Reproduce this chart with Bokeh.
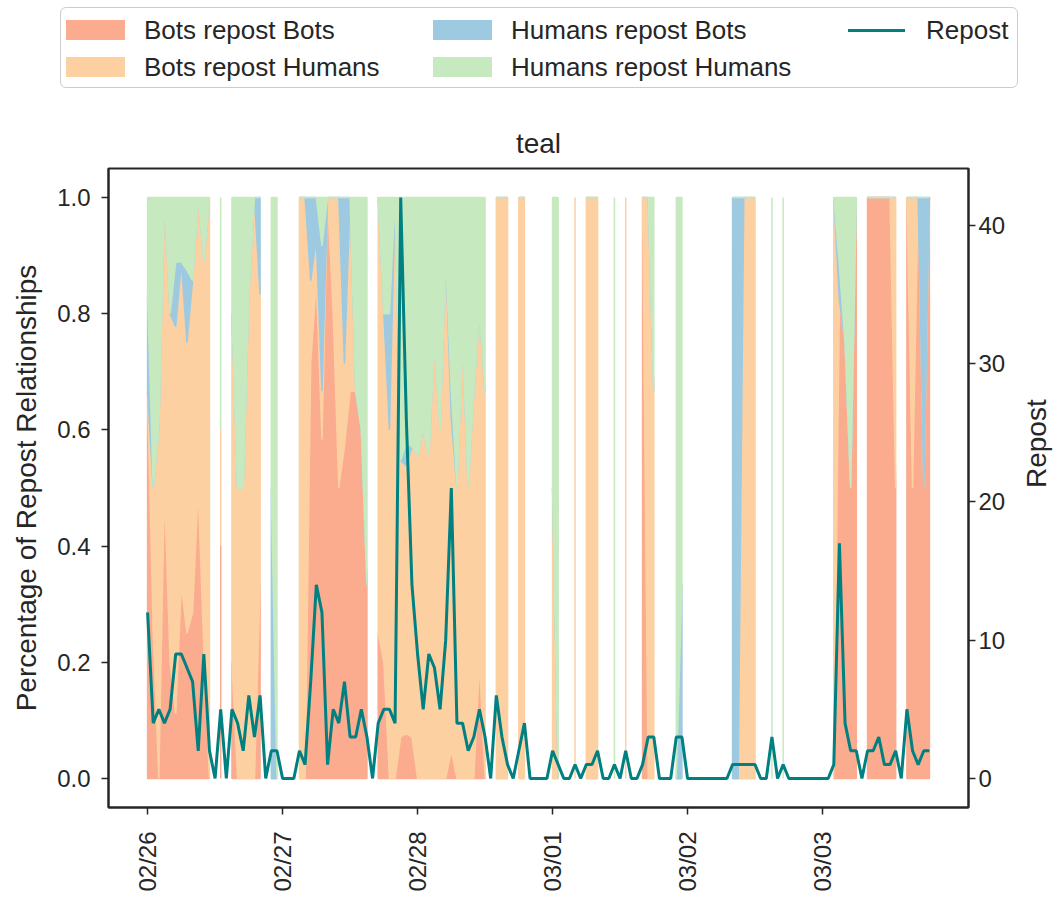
import math
from bokeh.plotting import figure
from bokeh.layouts import column
from bokeh.models import Range1d, LinearAxis, FixedTicker, Div
from bokeh.embed import file_html
from bokeh.resources import INLINE

# Hourly repost counts per relationship type, starting 02/26 00:00.
bots_bots = [
    8, 1, 0, 2, 1, 1, 3, 2, 2, 1, 2, 0, 0, 2, 0, 1, 0, 0, 0, 0, 2, 0, 0, 0,
    0, 0, 0, 0, 0, 5, 12, 7, 1, 4, 2, 4, 2, 2, 3, 1, 0, 1, 1, 0, 0, 3, 2, 1,
    0, 0, 0, 0, 0, 0, 1, 0, 0, 0, 0, 1, 0, 0, 0, 0, 0, 0, 0, 0, 0, 0, 0, 0,
    0, 0, 0, 0, 0, 0, 0, 0, 0, 0, 0, 0, 0, 0, 0, 0, 1, 0, 0, 0, 0, 0, 0, 0,
    0, 0, 0, 0, 0, 0, 0, 0, 0, 0, 0, 0, 0, 0, 0, 0, 0, 0, 0, 0, 0, 0, 0, 0,
    0, 0, 0, 14, 3, 1, 2, 0, 2, 2, 3, 1, 1, 1, 0, 5, 1, 1, 1, 2,
]
bots_humans = [
    0, 1, 3, 2, 3, 6, 5, 4, 4, 1, 6, 2, 0, 1, 0, 3, 2, 1, 5, 3, 3, 0, 0, 0,
    0, 0, 0, 2, 1, 1, 1, 1, 0, 1, 2, 1, 1, 0, 0, 0, 0, 3, 3, 3, 4, 20, 12, 7,
    5, 3, 5, 6, 3, 9, 12, 2, 3, 1, 2, 3, 2, 0, 6, 3, 1, 0, 2, 4, 0, 0, 0, 0,
    1, 0, 0, 0, 1, 0, 1, 1, 2, 0, 0, 0, 0, 2, 0, 0, 0, 3, 2, 0, 0, 0, 0, 0,
    0, 0, 0, 0, 0, 0, 0, 0, 0, 0, 1, 1, 1, 0, 0, 0, 0, 0, 0, 0, 0, 0, 0, 0,
    0, 0, 1, 0, 0, 0, 0, 0, 0, 0, 0, 0, 0, 1, 0, 0, 1, 0, 0, 0,
]
humans_bots = [
    2, 0, 0, 0, 0, 1, 0, 1, 0, 0, 0, 0, 0, 0, 0, 0, 0, 0, 0, 0, 1, 0, 1, 0,
    0, 0, 0, 0, 0, 1, 1, 3, 0, 0, 0, 2, 0, 0, 0, 0, 0, 0, 0, 1, 0, 0, 1, 0,
    0, 0, 0, 0, 0, 0, 1, 0, 0, 0, 0, 0, 0, 0, 0, 0, 0, 0, 0, 0, 0, 0, 0, 0,
    0, 0, 0, 0, 0, 0, 0, 0, 0, 0, 0, 0, 0, 0, 0, 0, 0, 0, 0, 0, 0, 0, 0, 1,
    0, 0, 0, 0, 0, 0, 0, 0, 1, 1, 0, 0, 0, 0, 0, 0, 0, 0, 0, 0, 0, 0, 0, 0,
    0, 0, 0, 1, 0, 0, 0, 0, 0, 0, 0, 0, 0, 0, 0, 0, 0, 0, 1, 0,
]
humans_humans = [
    2, 2, 2, 0, 1, 1, 1, 1, 1, 0, 1, 0, 0, 2, 0, 1, 2, 1, 1, 0, 0, 0, 1, 2,
    0, 0, 0, 0, 0, 0, 0, 1, 0, 0, 0, 0, 0, 1, 2, 2, 0, 0, 1, 1, 0, 19, 11, 6,
    4, 2, 4, 2, 2, 1, 7, 2, 1, 1, 1, 1, 1, 0, 0, 0, 0, 0, 0, 0, 0, 0, 0, 0,
    1, 1, 0, 0, 0, 0, 0, 0, 0, 0, 0, 1, 0, 0, 0, 0, 0, 0, 1, 0, 0, 0, 3, 2,
    0, 0, 0, 0, 0, 0, 0, 0, 0, 0, 0, 0, 0, 0, 0, 3, 0, 1, 0, 0, 0, 0, 0, 0,
    0, 0, 0, 2, 1, 1, 0, 0, 0, 0, 0, 0, 0, 0, 0, 0, 0, 0, 0, 0,
]

series_names = ["Bots repost Bots", "Bots repost Humans",
                "Humans repost Bots", "Humans repost Humans"]
series_colors = ["#fbab8e", "#fdd0a2", "#9ecae1", "#c7e9c0"]
repost_name = "Repost"
repost_color = "#008080"

day_ticks = [0, 24, 48, 72, 96, 120]
day_labels = ["02/26", "02/27", "02/28", "03/01", "03/02", "03/03"]
share_ticks = [0.0, 0.2, 0.4, 0.6, 0.8, 1.0]
repost_ticks = [0, 10, 20, 30, 40]

FONT = "Liberation Sans"
INK = "#262626"
W = 1055
LEGEND_H = 100

layers = [bots_bots, bots_humans, humans_bots, humans_humans]
n = len(bots_bots)
hours = list(range(n))
repost = [sum(layer[i] for layer in layers) for i in range(n)]

# Runs of consecutive hours with at least one repost (shares undefined elsewhere).
runs, cur = [], []
for h in hours:
    if repost[h] > 0:
        cur.append(h)
    elif cur:
        runs.append(cur)
        cur = []
if cur:
    runs.append(cur)

# Cumulative share boundaries for the stacked areas.
bounds = []
for h in hours:
    acc, row = 0.0, [0.0]
    for layer in layers:
        acc += layer[h] / repost[h] if repost[h] else 0.0
        row.append(acc)
    bounds.append(row)

# ---- main chart -------------------------------------------------------------
p = figure(
    frame_width=860, frame_height=639,
    min_border_left=108, min_border_right=87,
    min_border_top=68, min_border_bottom=92,
    x_range=Range1d(-6.95, 145.95), y_range=Range1d(-0.05, 1.05),
    output_backend="svg", toolbar_location=None,
    background_fill_color="white", border_fill_color="white",
)
p.extra_y_ranges = {"repost": Range1d(-2.1, 44.1)}

for k, color in enumerate(series_colors):
    xs, ys = [], []
    for run in runs:
        upper = [bounds[h][k + 1] for h in run]
        lower = [bounds[h][k] for h in run]
        xs.append(run + run[::-1])
        ys.append(upper + lower[::-1])
    p.patches(xs, ys, fill_color=color, line_color=color, line_width=1.5)

p.line(hours, repost, y_range_name="repost",
       line_color=repost_color, line_width=3)

p.xaxis.ticker = FixedTicker(ticks=day_ticks)
p.xaxis.major_label_overrides = {t: s for t, s in zip(day_ticks, day_labels)}
p.xaxis.major_label_orientation = math.pi / 2

p.yaxis.ticker = FixedTicker(ticks=share_ticks)
p.yaxis.major_label_overrides = {t: f"{t:.1f}" for t in share_ticks}
p.yaxis.axis_label = "Percentage of Repost Relationships"

ax_r = LinearAxis(y_range_name="repost", axis_label=repost_name,
                  ticker=FixedTicker(ticks=repost_ticks))
ax_r.axis_label_orientation = math.pi / 2
p.add_layout(ax_r, "right")

for ax in p.xaxis + p.yaxis + [ax_r]:
    ax.axis_line_color = INK
    ax.axis_line_width = 2
    ax.major_tick_line_color = INK
    ax.major_tick_line_width = 1.5
    ax.major_tick_out = 7
    ax.major_tick_in = 0
    ax.minor_tick_line_color = None
    ax.major_label_text_font = FONT
    ax.major_label_text_font_size = "24px"
    ax.major_label_text_color = INK
    ax.axis_label_text_font = FONT
    ax.axis_label_text_font_size = "28px"
    ax.axis_label_text_font_style = "normal"
    ax.axis_label_text_color = INK
p.xaxis.major_label_standoff = 17
p.yaxis.major_label_standoff = 11
p.yaxis.axis_label_standoff = 12
ax_r.major_label_standoff = 3
ax_r.axis_label_standoff = 28

p.xgrid.visible = False
p.ygrid.visible = False
p.outline_line_color = INK
p.outline_line_width = 2

p.title.text = "teal"
p.title.align = "center"
p.title.text_font = FONT
p.title.text_font_size = "28px"
p.title.text_font_style = "normal"
p.title.text_color = INK
p.title.standoff = 20

# ---- legend strip above the chart -------------------------------------------
# three columns of entries inside one light frame
ROW_Y = [30, 67]
COL_X = [66, 433, 848]
SWATCH_W, SWATCH_H, LABEL_GAP = 59, 20, 19

entries = [
    (COL_X[0], ROW_Y[0], "area", series_colors[0], series_names[0]),
    (COL_X[0], ROW_Y[1], "area", series_colors[1], series_names[1]),
    (COL_X[1], ROW_Y[0], "area", series_colors[2], series_names[2]),
    (COL_X[1], ROW_Y[1], "area", series_colors[3], series_names[3]),
    (COL_X[2], ROW_Y[0], "line", repost_color, repost_name),
]

parts = [
    '<div style="position:absolute;left:60px;top:7px;width:958px;height:81px;'
    'box-sizing:border-box;border:1.5px solid #cccccc;border-radius:6px;"></div>'
]
for x, y, kind, color, label in entries:
    if kind == "area":
        parts.append(
            f'<div style="position:absolute;left:{x}px;top:{y - SWATCH_H / 2}px;'
            f'width:{SWATCH_W}px;height:{SWATCH_H}px;background:{color};"></div>')
    else:
        parts.append(
            f'<div style="position:absolute;left:{x}px;top:{y - 1.5}px;'
            f'width:{SWATCH_W - 2}px;height:3px;background:{color};"></div>')
    parts.append(
        f'<div style="position:absolute;left:{x + SWATCH_W + LABEL_GAP}px;'
        f'top:{y - 15}px;height:30px;line-height:30px;white-space:nowrap;">'
        f'{label}</div>')

legend_html = (
    f'<div style="position:relative;width:{W}px;height:{LEGEND_H}px;'
    f"font-family:'{FONT}';font-size:26px;color:{INK};background:white;\">"
    + "".join(parts) + "</div>"
)
legend_div = Div(text=legend_html, width=W, height=LEGEND_H,
                 styles={"margin": "0", "padding": "0"})

page = column(legend_div, p, spacing=0)
open("out.html", "w").write(file_html(page, INLINE))
